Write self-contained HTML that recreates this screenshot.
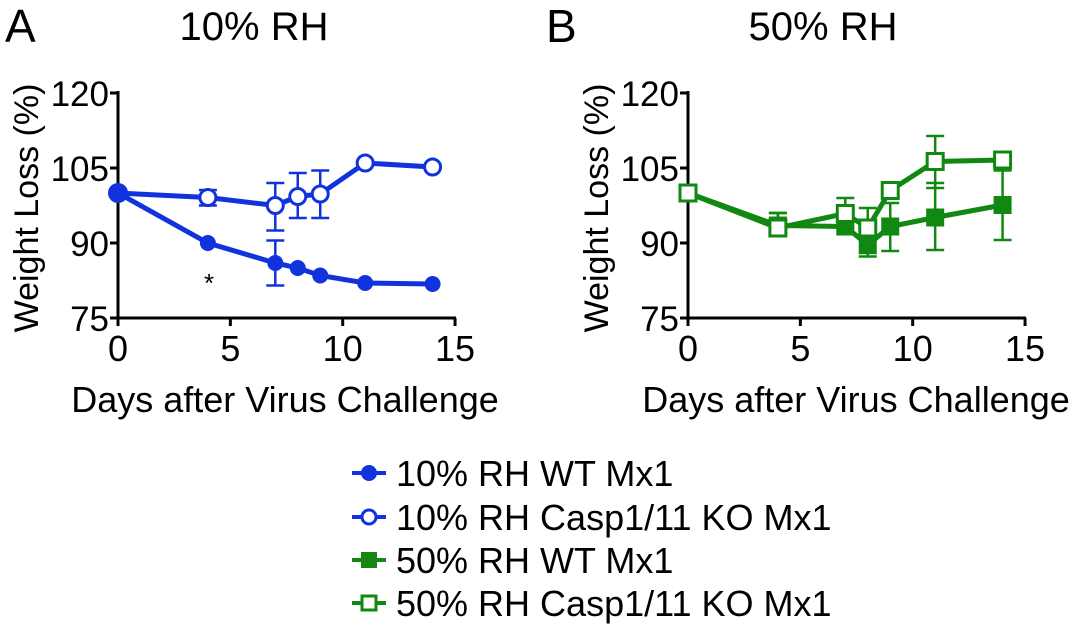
<!DOCTYPE html>
<html><head><meta charset="utf-8"><style>
html,body{margin:0;padding:0;background:#fff;}
svg{display:block;font-family:"Liberation Sans",Arial,sans-serif;}
</style></head><body>
<svg id="s" width="1080" height="629" viewBox="0 0 1080 629" xmlns="http://www.w3.org/2000/svg">
<rect width="1080" height="629" fill="#fff"/>
<text x="5" y="42" font-size="46">A</text>
<text x="254" y="40" font-size="40" text-anchor="middle">10% RH</text>
<text x="546" y="42" font-size="46">B</text>
<text x="823" y="40" font-size="40" text-anchor="middle">50% RH</text>
<text x="285" y="412" font-size="36" text-anchor="middle">Days after Virus Challenge</text>
<text x="856" y="412" font-size="36" text-anchor="middle">Days after Virus Challenge</text>
<text transform="translate(38,208) rotate(-90)" font-size="34" text-anchor="middle">Weight Loss (%)</text>
<text transform="translate(608,208) rotate(-90)" font-size="34" text-anchor="middle">Weight Loss (%)</text>
<g font-size="36">
<text x="396" y="486">10% RH WT Mx1</text>
<text x="396" y="530">10% RH Casp1/11 KO Mx1</text>
<text x="396" y="573">50% RH WT Mx1</text>
<text x="396" y="616">50% RH Casp1/11 KO Mx1</text>
</g>
<g stroke-width="4">
<line x1="352" y1="473" x2="386" y2="473" stroke="#1133dd"/><circle cx="369" cy="473" r="8" fill="#1133dd"/>
<line x1="352" y1="517" x2="386" y2="517" stroke="#1133dd"/><circle cx="369" cy="517" r="7" fill="#fff" stroke="#1133dd" stroke-width="3"/>
<line x1="352" y1="560" x2="386" y2="560" stroke="#118811"/><rect x="361" y="552" width="16" height="16" fill="#118811"/>
<line x1="352" y1="603" x2="386" y2="603" stroke="#118811"/><rect x="362" y="596" width="14" height="14" fill="#fff" stroke="#118811" stroke-width="3"/>
</g>
<g id="g"></g>
</svg>
<script>
var ns="http://www.w3.org/2000/svg",g=document.getElementById('g');
function el(t,a,txt){var e=document.createElementNS(ns,t);for(var k in a)e.setAttribute(k,a[k]);if(txt!==undefined)e.textContent=txt;g.appendChild(e);return e;}
function Y(v){return 318-(v-75)*5;}
function axes(x0){var X=function(d){return x0+d*22.47;};
 el('line',{x1:x0,y1:91,x2:x0,y2:320,stroke:'#000','stroke-width':3});
 el('line',{x1:x0-2,y1:318,x2:X(15)+1,y2:318,stroke:'#000','stroke-width':3});
 [75,90,105,120].forEach(function(v){el('line',{x1:x0-8,y1:Y(v),x2:x0,y2:Y(v),stroke:'#000','stroke-width':3});
  el('text',{x:x0-9,y:Y(v)+13,'font-size':35,'text-anchor':'end'},String(v));});
 [0,5,10,15].forEach(function(d){el('line',{x1:X(d),y1:318,x2:X(d),y2:326,stroke:'#000','stroke-width':3});
  el('text',{x:X(d),y:361,'font-size':36,'text-anchor':'middle'},String(d));});
 return X;}
function series(X,data,col,shape,filled){
 var pts=data.map(function(d){return X(d[0])+','+Y(d[1]);}).join(' ');
 data.forEach(function(d){if(d[2]!==undefined){var x=X(d[0]);
  el('line',{x1:x,y1:Y(d[2]),x2:x,y2:Y(d[3]),stroke:col,'stroke-width':2.5});
  [d[2],d[3]].forEach(function(v){el('line',{x1:x-9,y1:Y(v),x2:x+9,y2:Y(v),stroke:col,'stroke-width':2.5});});}});
 el('polyline',{points:pts,fill:'none',stroke:col,'stroke-width':5});
 data.forEach(function(d){var x=X(d[0]),y=Y(d[1]);
  if(shape=='c'){ if(filled)el('circle',{cx:x,cy:y,r:d[0]==0?10:8,fill:col});else el('circle',{cx:x,cy:y,r:8,fill:'#fff',stroke:col,'stroke-width':3});}
  else{ if(filled)el('rect',{x:x-9,y:y-9,width:18,height:18,fill:col});else el('rect',{x:x-8,y:y-8,width:16,height:16,fill:'#fff',stroke:col,'stroke-width':3});}});}
var XA=axes(118),XB=axes(688);
var B='#1133dd',G='#118811';
series(XA,[[0,100],[4,99.1,97.5,100.6],[7,97.5,92.5,102],[8,99.3,95,104],[9,99.8,95,104.5],[11,106],[14,105.2]],B,'c',false);
series(XA,[[0,100],[4,90],[7,86,81.5,90.5],[8,85],[9,83.5],[11,82],[14,81.8]],B,'c',true);
el('text',{x:209,y:292,'font-size':26,'text-anchor':'middle'},'*');
series(XB,[[0,100],[4,93.5,92,96],[7,93.3],[8,89.6,87.3,92],[9,93.3,88.4,98],[11,95.1,88.6,102],[14,97.6,90.6,104.5]],G,'s',true);
series(XB,[[0,100],[4,93,91.5,96],[7,95.9,93,99],[8,93,88,97],[9,100.5],[11,106.3,101,111.4],[14,106.6]],G,'s',false);
</script>
</body></html>
